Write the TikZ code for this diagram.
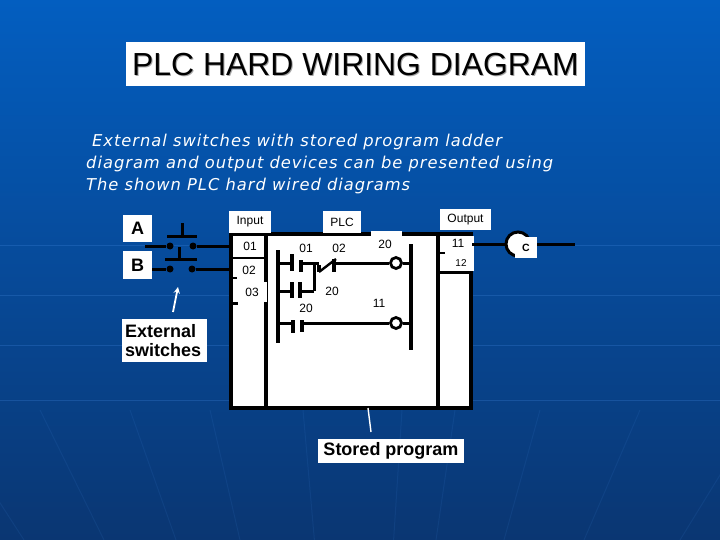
\documentclass[tikz,border=0pt]{standalone}
\usepackage{fontspec}
\setmainfont{Liberation Sans}
\newfontfamily\notefont[LetterSpace=6]{DejaVu Sans}
\definecolor{slidetop}{RGB}{3,94,192}
\definecolor{slidemid}{RGB}{6,78,160}
\definecolor{slidelow}{RGB}{10,54,114}
\definecolor{slideline}{RGB}{60,130,215}
\tikzset{
    tag/.style={fill=white,inner sep=0pt,text=black},
    small/.style={text=black,font=\fontsize{12}{12}\selectfont,inner sep=0pt},
    boldtag/.style={tag,font=\bfseries\fontsize{18}{19}\selectfont,align=left},
    wire/.style={line width=3pt,black},
    rail/.style={line width=3.6pt,black},
    plate/.style={line width=3.2pt,black},
    coil/.style={circle,draw=black,line width=2.8pt,fill=white,minimum size=11pt,inner sep=0pt},
    dot/.style={circle,fill=black,minimum size=7pt,inner sep=0pt},
    note/.style={text=white,font=\notefont\itshape\fontsize{16.3}{22}\selectfont,inner sep=0pt,anchor=west}
}
\begin{document}
\begin{tikzpicture}[x=1pt,y=-1pt,line cap=butt,>=stealth]
    \useasboundingbox (0,0) rectangle (720,540);
    \shade[top color=slidetop,middle color=slidemid,bottom color=slidelow] (0,0) rectangle (720,540);
    % background streaks
    \foreach \y in {245,295,345,400} \draw[slideline,opacity=.3,line width=1pt] (0,\y)--(720,\y);
    \foreach \x in {-60,40,130,210,303,402,455,540,640,760} \draw[slideline,opacity=.12,line width=1pt] (\x,410)--({\x+(360-\x)*.2},540);
    % title and text
    \node[tag,minimum width=459pt,minimum height=44pt] (titlebox) at (355.5,64) {};
    \node[text=gray!70,font=\fontsize{31.9}{30}\selectfont,inner sep=0pt] at (356.5,66) {PLC HARD WIRING DIAGRAM};
    \node[text=black,font=\fontsize{31.9}{30}\selectfont,inner sep=0pt] (title) at (355.5,65) {PLC HARD WIRING DIAGRAM};
    \node[note] (line1) at (92,142.5) {External switches with stored program ladder};
    \node[note] (line2) at (86,164.5) {diagram and output devices can be presented using};
    \node[note] (line3) at (86,186.5) {The shown PLC hard wired diagrams};
    % PLC box
    \draw[fill=white,line width=3.6pt] (231,234) rectangle (471,408);
    \coordinate (inputtop) at (266,234); \coordinate (inputlow) at (266,408);
    \coordinate (outputtop) at (438,234); \coordinate (outputlow) at (438,408);
    \draw[rail] (inputtop)--(inputlow);
    \draw[rail] (outputtop)--(outputlow);
    \fill[white] (371,231) rectangle (402,236);
    \fill[white] (440,236) rectangle (474,271);
    \draw[line width=2.6pt] (438,272.5)--(471,272.5);
    \draw[line width=2.6pt] (438,253)--(445,253);
    \draw[line width=2.6pt] (232,258)--(265,258);
    \draw[line width=2.6pt] (231,278)--(237,278);
    \draw[line width=2.6pt] (231,303.5)--(238,303.5);
    \fill[white] (238,282) rectangle (267,302);
    \node[tag,small,minimum width=42pt,minimum height=21pt] (input) at (250,222) {Input};
    \node[tag,small,minimum width=38pt,minimum height=21pt] (plc) at (342,222) {PLC};
    \node[tag,small,minimum width=51pt,minimum height=21pt] (output) at (465.5,220) {Output};
    % terminals
    \node[small] (in01) at (250,246) {01};
    \node[small] (in02) at (249,270) {02};
    \node[small] (in03) at (252,292) {03};
    \node[small] (out11) at (458,243) {11};
    \node[small,font=\fontsize{10}{10}\selectfont] (out12) at (461,263) {12};
    % ladder rails
    \coordinate (railLa) at (278,250); \coordinate (railLb) at (278,343);
    \coordinate (railRa) at (411,244); \coordinate (railRb) at (411,350);
    \draw[rail] (railLa)--(railLb);
    \draw[rail] (railRa)--(railRb);
    % rung 1
    \coordinate (c01a) at (292,263); \coordinate (c01b) at (301,263);
    \coordinate (c02a) at (319,263); \coordinate (c02b) at (334,263);
    \coordinate (branch) at (314,263);
    \node[coil] (coil20) at (396,263) {};
    \draw[wire] (c01a-|railLa)--(c01a);
    \draw[wire] (c01b)--(c02a);
    \draw[wire] (c02b)--(coil20)--(coil20-|railRa);
    \draw[plate] (292,254)--(292,271);
    \draw[plate] (301,260)--(301,272);
    \draw[plate] (319,265)--(319,272);
    \draw[plate] (334,259)--(334,272);
    \draw[line width=2.4pt] (319,272)--(336,259);
    % rung 2
    \coordinate (c20a) at (292,291); \coordinate (c20b) at (300,291);
    \coordinate (branchend) at (314,291);
    \draw[wire] (c20a-|railLa)--(c20a);
    \draw[wire] (c20b)--(branchend);
    \draw[wire] (branchend)--(branchend|-branch);
    \draw[plate] (292,282)--(292,298);
    \draw[plate] (300,282)--(300,298);
    % rung 3
    \coordinate (c20c) at (293,323); \coordinate (c20d) at (302,323);
    \node[coil] (coil11) at (396,323) {};
    \draw[wire] (c20c-|railLa)--(c20c);
    \draw[wire] (c20d)--(coil11)--(coil11-|railRa);
    \draw[plate] (293,320)--(293,333);
    \draw[plate] (302,320)--(302,332);
    % contact labels
    \node[small] (l01) at (306,248) {01};
    \node[small] (l02) at (339,248) {02};
    \node[small] (l20) at (385,244) {20};
    \node[small] (l20b) at (332,291) {20};
    \node[small] (l20c) at (306,308) {20};
    \node[small] (l11) at (379,303) {11};
    % switches
    \node[tag,font=\bfseries\fontsize{18}{18}\selectfont,minimum width=29pt,minimum height=27pt] (swA) at (137.5,228.5) {A};
    \node[tag,font=\bfseries\fontsize{18}{18}\selectfont,minimum width=29pt,minimum height=28pt] (swB) at (137.5,265) {B};
    \node[dot] (a1) at (170,246) {};
    \node[dot] (a2) at (193,246) {};
    \node[dot] (b1) at (170,269) {};
    \node[dot] (b2) at (192,269) {};
    \coordinate (afree) at (145,246); \coordinate (bfree) at (152,269);
    \coordinate (ain) at (231,246); \coordinate (bin) at (231,269);
    \draw[wire] (afree)--(a1);
    \draw[wire] (a2)--(ain);
    \draw[wire] (bfree)--(b1);
    \draw[wire] (b2)--(bin);
    \draw[wire] (167,236)--(197,236) (182,236)--(182,223);
    \draw[wire] (165,259)--(197,259) (179,259)--(179,247);
    % notes
    \node[boldtag,minimum width=85pt,minimum height=43pt,text width=79pt] (extern) at (164.5,340.5) {External\\[0pt]switches};
    \coordinate (arrowstart) at (173,312); \coordinate (arrowend) at (178,287);
    \draw[->,white,line width=1.8pt] (arrowstart)--(arrowend);
    \node[boldtag,minimum width=146pt,minimum height=24pt,align=center] (stored) at (391,451) {Stored program};
    \coordinate (storedtip) at (368,408); \coordinate (storedend) at (371,432);
    \draw[white,line width=1.4pt] (storedtip)--(storedend);
    % output device
    \coordinate (outfree) at (472,244); \coordinate (linefree) at (575,244);
    \node[circle,draw=black,line width=3pt,fill=white,minimum size=24pt,inner sep=0pt] (devC) at (518,244) {};
    \node[tag,font=\bfseries\fontsize{10.5}{11}\selectfont,minimum width=22pt,minimum height=21pt] (labelC) at (526,247.5) {C};
    \draw[wire] (outfree)--(devC);
    \draw[wire] (labelC.east |- linefree)--(linefree);
\end{tikzpicture}
\end{document}
